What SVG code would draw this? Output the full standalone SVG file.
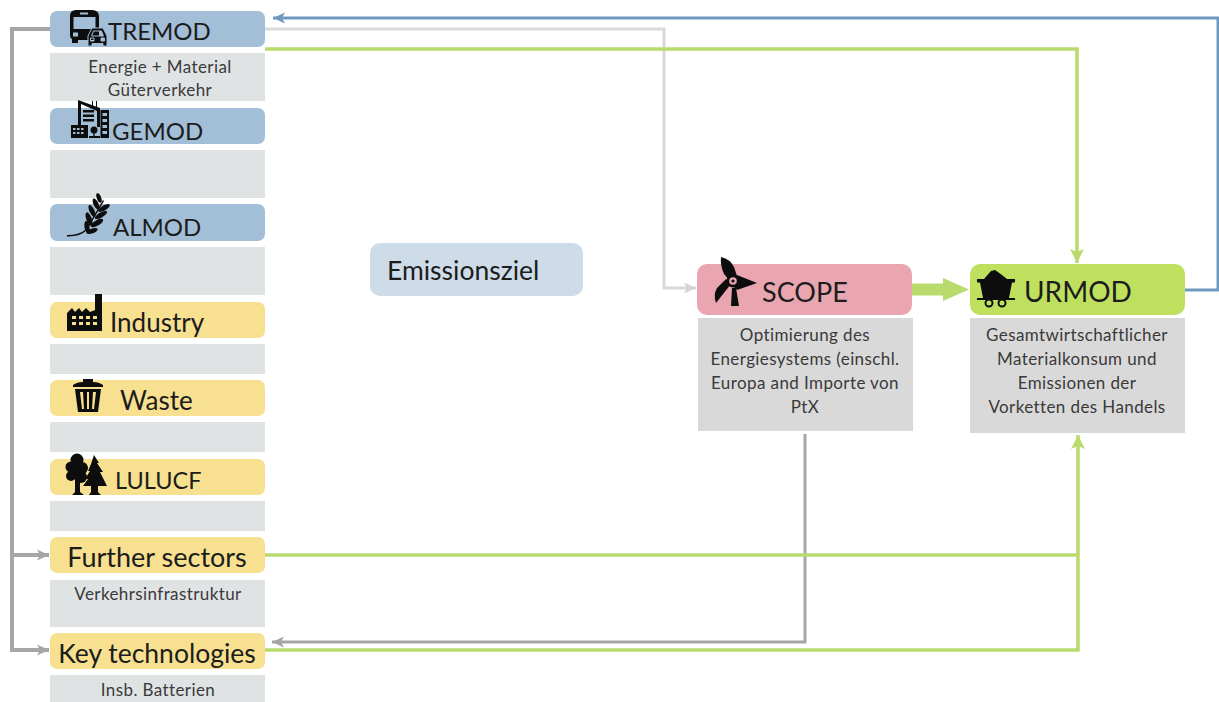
<svg xmlns="http://www.w3.org/2000/svg" width="1219" height="702" viewBox="0 0 1219 702">
<style>
text{font-family:"Lato","Carlito","Liberation Sans",sans-serif;fill:#1c1c1c}
.blue{fill:#a3bfd8}.yel{fill:#f7e08f}.sub{fill:#e0e3e4}.sub2{fill:#d9d9d9}
.s{font-size:17px;text-anchor:middle;fill:#3a3a3a;letter-spacing:.4px}
.c{fill:none;stroke-linejoin:miter}
.gr{stroke:#a6a6a6;stroke-width:3}.grt{stroke:#a6a6a6;stroke-width:4}.lg{stroke:#d9d9d9;stroke-width:3}.gn{stroke:#b9da6c;stroke-width:3.500}.bl{stroke:#6f9abf;stroke-width:3}
.ic{fill:#0d0d0d}
</style>
<defs>
<marker id="aGr" markerUnits="userSpaceOnUse" markerWidth="14" markerHeight="14" refX="12" refY="7" orient="auto"><path d="M0 1.500L12 7L0 12.500L3 7Z" fill="#a6a6a6"/></marker>
<marker id="aLg" markerUnits="userSpaceOnUse" markerWidth="14" markerHeight="14" refX="12" refY="7" orient="auto"><path d="M0 1.500L12 7L0 12.500L3 7Z" fill="#d4d4d4"/></marker>
<marker id="aGn" markerUnits="userSpaceOnUse" markerWidth="16" markerHeight="16" refX="14" refY="8" orient="auto"><path d="M0 1L14 8L0 15L3 8Z" fill="#b9da6c"/></marker>
<marker id="aBl" markerUnits="userSpaceOnUse" markerWidth="14" markerHeight="14" refX="12" refY="7" orient="auto"><path d="M0 1.500L12 7L0 12.500L3 7Z" fill="#6f9abf"/></marker>
</defs>
<rect width="1219" height="702" fill="#fff"/>
<g id="connectors">
<path class="c grt" d="M50 29H12V650H49" marker-end="url(#aGr)"/>
<path class="c grt" d="M12 555H49" marker-end="url(#aGr)"/>
<path class="c lg" d="M265 29H664V288H696" marker-end="url(#aLg)"/>
<path class="c gn" d="M265 49H1077V263" marker-end="url(#aGn)"/>
<path class="c bl" d="M1185 290H1218V18H273" marker-end="url(#aBl)"/>
<path class="c gr" d="M805 434V642H272" marker-end="url(#aGr)"/>
<path class="c gn" d="M265 555H1078"/>
<path class="c gn" d="M265 650H1078V435" marker-end="url(#aGn)"/>
<path d="M912 283.500H943V278L969 289.500L943 301V295.500H912Z" fill="#b9da6c"/>
</g>
<g id="tremod">
<rect class="blue" x="50" y="11" width="215" height="36" rx="7"/>
<rect class="sub" x="50" y="53" width="215" height="48"/>
<text font-size="24" x="108" y="40">TREMOD</text>
<text class="s" x="160" y="73">Energie + Material</text>
<text class="s" x="160" y="96">Güterverkehr</text>
<g>
<path class="ic" fill-rule="evenodd" d="M76 10H92Q99 10 99 17V36H96V40H78V43H72V39Q70 38 70 35V16Q70 10 76 10ZM80 12.500V14.500H88V12.500ZM73.500 17V29H95.500V17ZM73 32.500V36.500H78V32.500Z"/>
<path class="ic" fill-rule="evenodd" stroke="#a3bfd8" stroke-width="1" d="M92 28H103L107 36V46H103V43.500H92V46H88V36ZM93.500 31L91.500 36H103.500L101.500 31ZM90.500 38V41H94V38ZM101 38V41H104.500V38Z"/>
</g>
</g>
<g id="gemod">
<rect class="blue" x="50" y="108" width="215" height="36" rx="7"/>
<rect class="sub" x="50" y="150" width="215" height="48"/>
<text font-size="24" x="112" y="140">GEMOD</text>
<g class="ic">
<path fill-rule="evenodd" d="M78 100L100 108V127H97V111L81 104V127H78Z"/>
<path d="M83 110h11v2.500h-11zM83 114.500h11v2.500h-11zM83 119h11v2.500h-11zM92 101h1v7h-1zM96 101h1v8h-1z"/>
<path fill-rule="evenodd" d="M71 125H88V138H71ZM73 128v2h2.500v-2zM77 128v2h2.500v-2zM81 128v2h2.500v-2zM73 132v2h2.500v-2zM77 132v2h2.500v-2zM81 132v2h2.500v-2z"/>
<circle cx="94" cy="130" r="3.500"/><path d="M93.300 130h1.400v8h-1.400zM89 136h11v2h-11z"/>
<path fill-rule="evenodd" d="M100.500 110H109V138H100.500ZM102.500 113v3h4.500v-3zM102.500 119v3h4.500v-3zM102.500 125v3h4.500v-3zM102.500 131v3h4.500v-3z"/>
</g>
</g>
<g id="almod">
<rect class="blue" x="50" y="204" width="215" height="37" rx="7"/>
<rect class="sub" x="50" y="247" width="215" height="48"/>
<text font-size="24" x="113" y="236">ALMOD</text>
<g class="ic">
<path d="M67 235Q80 235 86 229L103 200L104 201L87 230Q80 237 67 236.500Z"/>
<ellipse cx="99" cy="198" rx="2.200" ry="5" transform="rotate(-20 99 198)"/>
<ellipse cx="96" cy="204" rx="2.500" ry="6" transform="rotate(-25 96 204)"/>
<ellipse cx="104" cy="208" rx="2.500" ry="6.500" transform="rotate(60 104 208)"/>
<ellipse cx="92" cy="211" rx="2.500" ry="6.500" transform="rotate(-25 92 211)"/>
<ellipse cx="101" cy="215" rx="2.500" ry="7" transform="rotate(60 101 215)"/>
<ellipse cx="89" cy="219" rx="2.700" ry="7" transform="rotate(-20 89 219)"/>
<ellipse cx="97" cy="223" rx="2.700" ry="7" transform="rotate(60 97 223)"/>
<ellipse cx="87" cy="227" rx="2.500" ry="6" transform="rotate(-10 87 227)"/>
<ellipse cx="92" cy="231" rx="2.500" ry="6" transform="rotate(70 92 231)"/>
</g>
</g>
<g id="industry">
<rect class="yel" x="50" y="302" width="215" height="36" rx="7"/>
<rect class="sub" x="50" y="344" width="215" height="30"/>
<text font-size="26" x="110" y="332">Industry</text>
<path class="ic" fill-rule="evenodd" d="M67 331V313L72 308L75 312L79 308L82 312L86 308L90 312L95 310V294H102V331ZM72 316v3h4v-3zM79 316v3h4v-3zM86 316v3h4v-3zM93 316v3h4v-3zM72 322v3h4v-3zM79 322v3h4v-3zM86 322v3h4v-3zM93 322v3h4v-3z"/>
</g>
<g id="waste">
<rect class="yel" x="50" y="380" width="215" height="36" rx="7"/>
<rect class="sub" x="50" y="422" width="215" height="30"/>
<text font-size="26" x="120" y="410">Waste</text>
<path class="ic" fill-rule="evenodd" d="M73 385Q77 382 83 382V379H93V382Q99 382 103 385V387H73ZM75 389H101L98 412H78ZM80 392L82 409H84L83 392ZM87 392V409H89V392ZM93 392L92 409H94L96 392Z"/>
</g>
<g id="lulucf">
<rect class="yel" x="50" y="459" width="215" height="36" rx="7"/>
<rect class="sub" x="50" y="501" width="215" height="30"/>
<text font-size="23.500" x="115" y="489">LULUCF</text>
<g class="ic">
<circle cx="77" cy="460" r="6.500"/><circle cx="71" cy="467" r="5.500"/><circle cx="82" cy="468" r="6"/><circle cx="71" cy="476" r="5"/><circle cx="81" cy="477" r="6"/><circle cx="76" cy="470" r="6"/>
<path d="M75 478H80L80 492L84 495H72L75 492Z"/>
<path d="M94 455L99 463H97L103 472H100L107 486H98V492L101 495H89L91 492V486H83L88 479H85L90 471H88L91 464Z"/>
</g>
</g>
<g id="further-sectors">
<rect class="yel" x="50" y="537" width="215" height="36" rx="7"/>
<rect class="sub" x="50" y="580" width="215" height="47"/>
<text font-size="27" x="157" y="567" text-anchor="middle">Further sectors</text>
<text class="s" x="158" y="600">Verkehrsinfrastruktur</text>
</g>
<g id="key-technologies">
<rect class="yel" x="50" y="633" width="215" height="36" rx="7"/>
<rect class="sub" x="50" y="675" width="215" height="27"/>
<text font-size="26.500" x="157" y="663" text-anchor="middle">Key technologies</text>
<text class="s" x="158" y="696">Insb. Batterien</text>
</g>
<g id="emissionsziel">
<rect x="370" y="243" width="213" height="53" rx="10" fill="#cddce8"/>
<text x="387" y="280" font-size="26.500">Emissionsziel</text>
</g>
<g id="scope">
<rect x="697" y="264" width="215" height="51" rx="10" fill="#eaa6b0"/>
<rect class="sub2" x="698" y="318" width="215" height="113"/>
<text font-size="27" x="762" y="302">SCOPE</text>
<text class="s" x="805" y="341">Optimierung des</text>
<text class="s" x="805" y="365">Energiesystems (einschl.</text>
<text class="s" x="805" y="389">Europa and Importe von</text>
<text class="s" x="805" y="413">PtX</text>
<g class="ic">
<path d="M721 257Q730 259 734 267L737 276L729 280L724 274Q720 265 721 257Z"/>
<path d="M737 275L757 283L737 290L733 286Z"/>
<path d="M731 284L716 303Q713 295 717 288L726 279Z"/>
<path d="M732 288H736L739 306H731Z"/>
<circle cx="733" cy="281" r="6.500"/>
</g>
<circle cx="733" cy="281" r="3.800" fill="#eaa6b0"/><circle cx="733" cy="281" r="1.600" class="ic"/>
</g>
<g id="urmod">
<rect x="970" y="264" width="215" height="51" rx="10" fill="#bfe05f"/>
<rect class="sub2" x="970" y="318" width="215" height="115"/>
<text font-size="28" x="1024" y="302">URMOD</text>
<text class="s" x="1077" y="341">Gesamtwirtschaftlicher</text>
<text class="s" x="1077" y="365">Materialkonsum und</text>
<text class="s" x="1077" y="389">Emissionen der</text>
<text class="s" x="1077" y="413">Vorketten des Handels</text>
<g class="ic">
<path d="M984 279L991 271L995 270L1002 275L1007 279H1015V282.500H1012L1009 298H1015V300H977V298H983L980 282.500H977V279Z"/>
<circle cx="989" cy="303" r="3.500" fill="#bfe05f" stroke="#0d0d0d" stroke-width="2"/>
<circle cx="1002" cy="303" r="3.500" fill="#bfe05f" stroke="#0d0d0d" stroke-width="2"/>
</g>
</g>
</svg>
